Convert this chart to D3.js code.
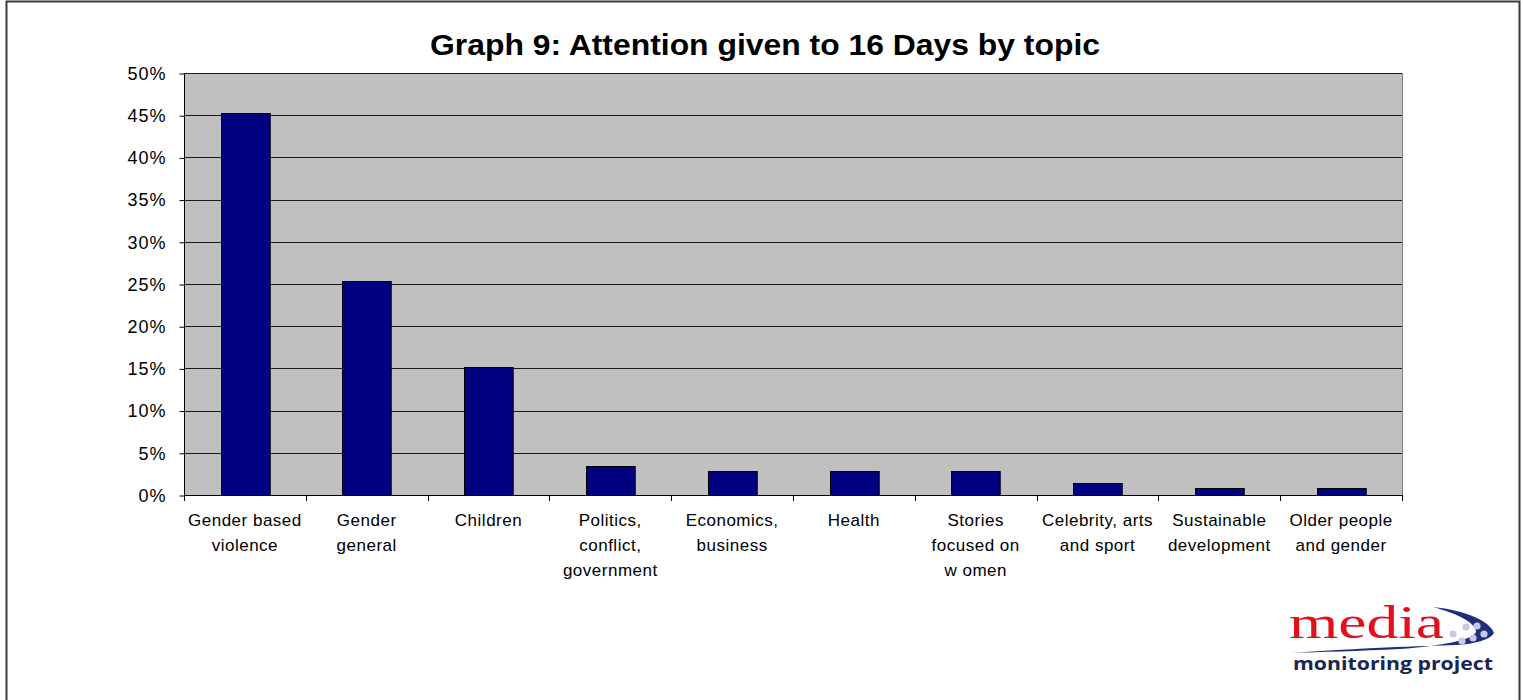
<!DOCTYPE html>
<html>
<head>
<meta charset="utf-8">
<script src="https://cdn.jsdelivr.net/npm/d3@7"></script>
<style>
  html, body { margin: 0; padding: 0; background: #fff; }
  svg { display: block; }
</style>
</head>
<body>
<svg id="chart" width="1523" height="700"></svg>
<script>
// Share of 16 Days coverage by topic (percent)
const categories = [
  ["Gender based", "violence"],
  ["Gender", "general"],
  ["Children"],
  ["Politics,", "conflict,", "government"],
  ["Economics,", "business"],
  ["Health"],
  ["Stories", "focused on", "w omen"],
  ["Celebrity, arts", "and sport"],
  ["Sustainable", "development"],
  ["Older people", "and gender"]
];
const values = [45.3, 25.4, 15.2, 3.4, 2.8, 2.8, 2.8, 1.4, 0.8, 0.8];
const yTicks = [0, 5, 10, 15, 20, 25, 30, 35, 40, 45, 50];
const title = "Graph 9: Attention given to 16 Days by topic";

const svg = d3.select("#chart");
const font = "'Liberation Sans', Arial, sans-serif";

// Outer frame
svg.append("path")
  .attr("d", "M6.5,700 V1.5 H1519.5 V700")
  .attr("fill", "none").attr("stroke", "#3a3a3a").attr("stroke-width", 2);

const plot = { left: 184, right: 1402, top: 73, bottom: 495 };

const x = d3.scaleBand()
  .domain(d3.range(categories.length))
  .range([plot.left, plot.right])
  .paddingInner(0.6).paddingOuter(0.3);

const y = d3.scaleLinear().domain([0, 50]).range([plot.bottom, plot.top]);

// Plot background
svg.append("rect")
  .attr("x", plot.left).attr("y", plot.top)
  .attr("width", plot.right - plot.left).attr("height", plot.bottom - plot.top)
  .attr("fill", "#c0c0c0");

// Right edge of plot area
svg.append("line")
  .attr("x1", plot.right + 0.5).attr("x2", plot.right + 0.5)
  .attr("y1", plot.top).attr("y2", plot.bottom)
  .attr("stroke", "#808080").attr("stroke-width", 1);

// Horizontal gridlines
svg.append("g").selectAll("line")
  .data(yTicks.filter(d => d > 0))
  .join("line")
  .attr("x1", plot.left).attr("x2", plot.right)
  .attr("y1", d => Math.round(y(d)) + 0.5).attr("y2", d => Math.round(y(d)) + 0.5)
  .attr("stroke", "#1a1a1a").attr("stroke-width", 1);

// Bars
svg.append("g").selectAll("rect")
  .data(values)
  .join("rect")
  .attr("x", (d, i) => Math.round(x(i)) + 0.5)
  .attr("y", d => Math.round(y(d)) + 0.5)
  .attr("width", x.bandwidth())
  .attr("height", d => Math.round(y(0)) - Math.round(y(d)))
  .attr("fill", "#000080")
  .attr("stroke", "#000").attr("stroke-width", 1);

// Y axis
const yAxis = d3.axisLeft(y)
  .tickValues(yTicks)
  .tickFormat(d => d + "%")
  .tickSize(5).tickPadding(13);
const gy = svg.append("g")
  .attr("transform", `translate(${plot.left + 0.5},0.5)`)
  .call(yAxis);
gy.select(".domain").attr("stroke", "#000").attr("d", `M0,${plot.top}V${plot.bottom}`);
gy.selectAll(".tick line").attr("stroke", "#000");
gy.selectAll(".tick text")
  .attr("font-family", font).attr("font-size", 18)
  .attr("letter-spacing", 1).attr("fill", "#000");

// X axis line with ticks on category boundaries
const boundaries = d3.range(categories.length + 1)
  .map(i => plot.left + i * (plot.right - plot.left) / categories.length);
const gx = svg.append("g");
gx.append("line")
  .attr("x1", plot.left).attr("x2", plot.right + 1)
  .attr("y1", plot.bottom + 0.5).attr("y2", plot.bottom + 0.5)
  .attr("stroke", "#000");
gx.selectAll("line.tick")
  .data(boundaries)
  .join("line").attr("class", "tick")
  .attr("x1", d => Math.round(d) + 0.5).attr("x2", d => Math.round(d) + 0.5)
  .attr("y1", plot.bottom).attr("y2", plot.bottom + 6)
  .attr("stroke", "#000");

// Category labels
const labels = svg.append("g")
  .attr("font-family", font).attr("font-size", 17).attr("letter-spacing", 0.5)
  .attr("fill", "#000")
  .attr("text-anchor", "middle");
categories.forEach((lines, i) => {
  const cx = x(i) + x.bandwidth() / 2;
  const t = labels.append("text").attr("x", cx).attr("y", 526);
  lines.forEach((ln, j) => {
    t.append("tspan")
      .attr("x", cx)
      .attr("dy", j === 0 ? 0 : 25)
      .text(ln);
  });
});

// Title
svg.append("text")
  .attr("x", 765).attr("y", 55)
  .attr("text-anchor", "middle")
  .attr("font-family", font).attr("font-weight", "bold").attr("font-size", 29)
  .attr("textLength", 670).attr("lengthAdjust", "spacingAndGlyphs")
  .attr("fill", "#000")
  .text(title);

// Logo: media monitoring project
const logo = svg.append("g");
logo.append("path")
  .attr("d", "M1292,653 C1360,648 1420,646 1456,645 C1475,644 1490,640 1494,633 C1490,621 1465,610 1433,607 C1458,614 1474,622 1476,631 C1476,640 1440,646 1400,649 C1360,651 1320,652 1292,653 Z")
  .attr("fill", "#1f2f7a");
[[1466,627],[1477,626],[1484,634],[1473,638],[1462,641],[1453,634]].forEach(([cx, cy]) => {
  logo.append("circle").attr("cx", cx).attr("cy", cy).attr("r", 3.6).attr("fill", "#c8c8ea");
});
logo.append("text")
  .attr("x", 1289).attr("y", 638)
  .attr("font-family", "'Liberation Serif', 'DejaVu Serif', serif")
  .attr("font-size", 46).attr("fill", "#e3101c")
  .attr("textLength", 155).attr("lengthAdjust", "spacingAndGlyphs")
  .text("media");
logo.append("text")
  .attr("x", 1293).attr("y", 670)
  .attr("font-family", "'Open Sans', 'DejaVu Sans', sans-serif")
  .attr("font-weight", "bold").attr("font-size", 17).attr("fill", "#1a2555")
  .attr("textLength", 200).attr("lengthAdjust", "spacingAndGlyphs")
  .text("monitoring project");
</script>
</body>
</html>
